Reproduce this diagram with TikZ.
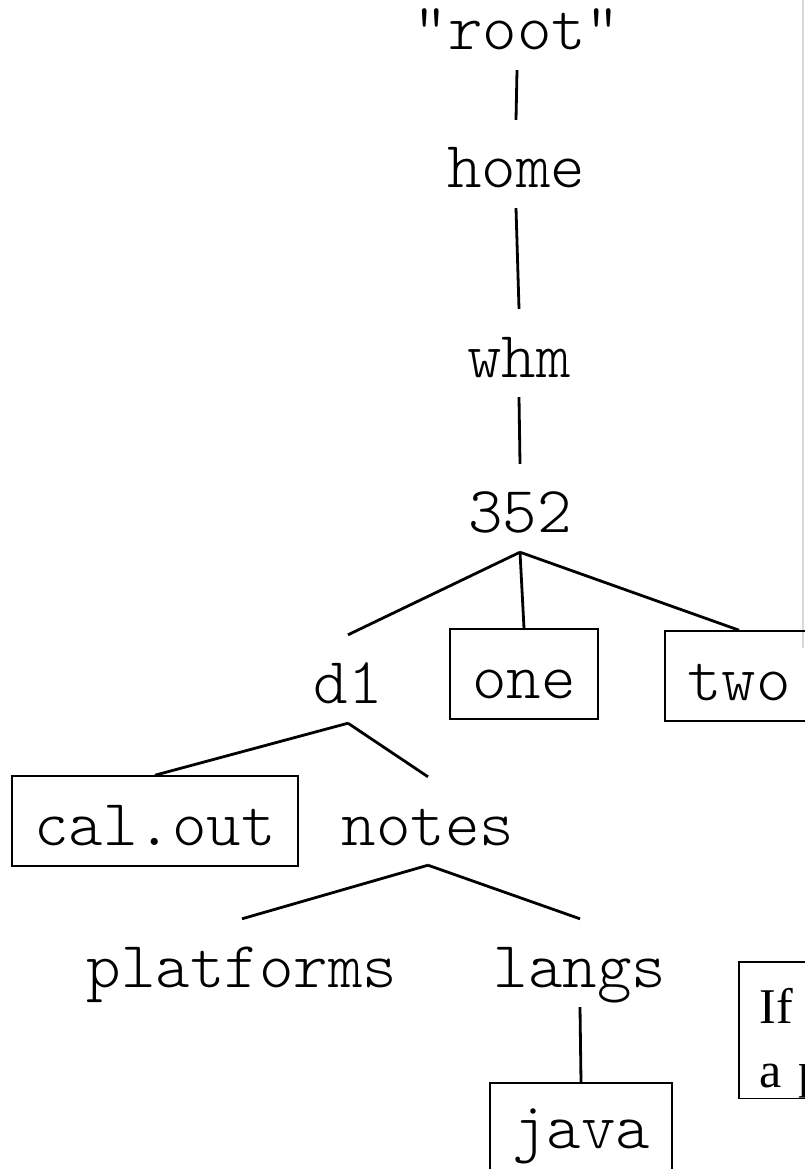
\documentclass[tikz,border=0pt]{standalone}
\usepackage{fontspec}
\setmainfont{Liberation Serif}
\usepackage{tikz}

\begin{document}
\begin{tikzpicture}[x=1pt,y=-1pt,
  dir/.style={font=\ttfamily\fontseries{l}\fontsize{65.7}{70}\selectfont,
    inner sep=0pt, text height=68pt, text depth=20pt, anchor=base},
  file/.style={dir, draw, line width=1.6pt, inner xsep=22pt,
    text height=56pt, text depth=8pt, minimum height=90pt},
  branch/.style={line width=2.8pt},
  note/.style={draw, line width=1.6pt, font=\fontsize{50}{64}\selectfont,
    align=left, text width=280pt, inner xsep=21pt, inner ysep=0pt, anchor=north west}]
\useasboundingbox (0,0) rectangle (804,1169);

% edge of the panel on the right
\draw[gray!30, line width=1.2pt] (803,0) -- (803,648);

\node[dir] (root) at (517,50) {"root"};
\node[dir] (home) at (516,188) {home};
\node[dir] (whm) at (519,377) {whm};
\node[dir] (n352) at (520,532) {352};

\node[dir] (d1) at (348,703) {d1};
\node[file] (one) at (524,698) {one};
\node[file] (two) at (739,700) {two};

\node[file] (calout) at (155,845) {cal.out};
\node[dir] (notes) at (428,845) {notes};

\node[dir] (platforms) at (242,987) {platforms};
\node[dir] (langs) at (580,987) {langs};
\node[file, text height=65pt, text depth=40pt] (java) at (581,1148) {java};

\foreach \from/\to in {root/home,home/whm,whm/n352,n352/d1,n352/one,n352/two,d1/calout,d1/notes,notes/platforms,notes/langs,langs/java}
\draw[branch] (\from.south) -- (\to.north);

\node[note] (hint) at (738,961) {\rule{0pt}{62pt}If\\a p};
\end{tikzpicture}
\end{document}
